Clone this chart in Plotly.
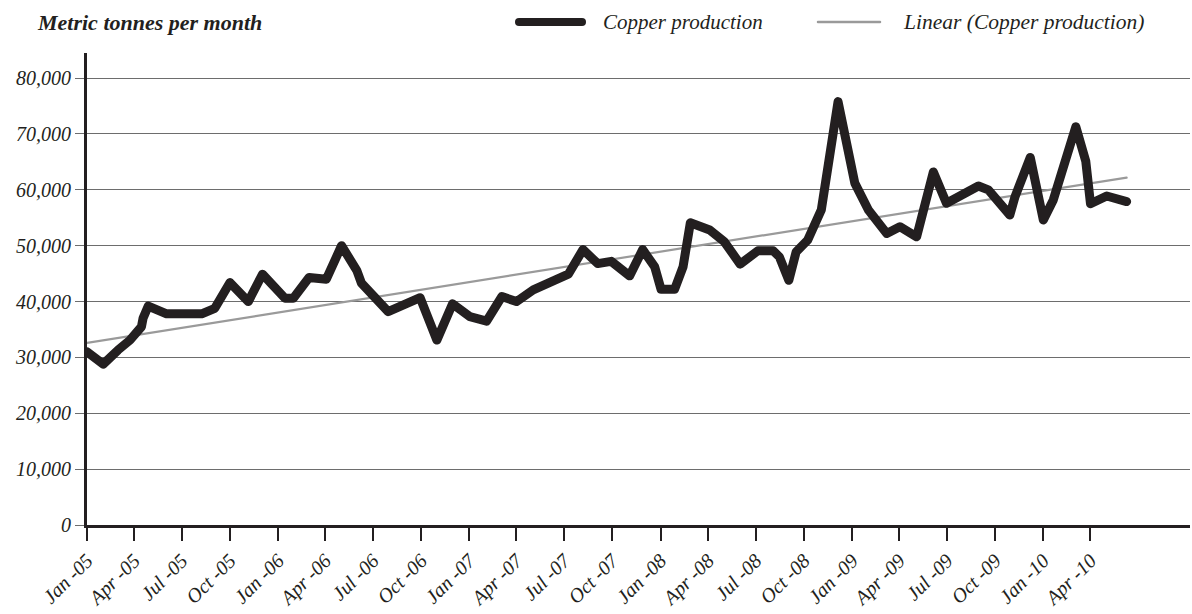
import plotly.graph_objects as go

# ---- data ----
dates = [
    "2005-01-01", "2005-02-01", "2005-03-01", "2005-03-24", "2005-04-15", "2005-04-18",
    "2005-04-28", "2005-06-02", "2005-08-08", "2005-09-02", "2005-10-01", "2005-11-05",
    "2005-12-02", "2006-01-14", "2006-01-30", "2006-03-01", "2006-04-03", "2006-05-02",
    "2006-05-31", "2006-06-09", "2006-07-30", "2006-09-29", "2006-10-31", "2006-11-30",
    "2007-01-02", "2007-02-03", "2007-03-04", "2007-04-01", "2007-05-03", "2007-06-04",
    "2007-07-09", "2007-08-06", "2007-09-03", "2007-09-29", "2007-11-03", "2007-11-28",
    "2007-12-21", "2008-01-02", "2008-01-28", "2008-02-13", "2008-02-27", "2008-04-04",
    "2008-05-02", "2008-06-01", "2008-07-05", "2008-08-03", "2008-08-15", "2008-09-02",
    "2008-09-16", "2008-10-08", "2008-11-03", "2008-12-05", "2009-01-06", "2009-02-01",
    "2009-03-08", "2009-04-02", "2009-05-04", "2009-06-05", "2009-06-30", "2009-08-30",
    "2009-09-18", "2009-10-29", "2009-11-08", "2009-12-07", "2010-01-01", "2010-01-20",
    "2010-03-04", "2010-03-23", "2010-04-01", "2010-05-02", "2010-06-09",
]
copper = [
    31000, 28800, 31300, 33100, 35500, 37000,
    39200, 37800, 37800, 38800, 43400, 40000,
    44900, 40600, 40600, 44300, 44000, 50000,
    45600, 43300, 38200, 40700, 33100, 39600,
    37300, 36500, 40900, 40000, 42100, 43600,
    44900, 49300, 46800, 47200, 44600, 49300,
    46200, 42200, 42200, 46200, 54100, 52800,
    50700, 46700, 49100, 49100, 48000, 43800,
    48900, 51000, 56400, 75800, 61200, 56400,
    52200, 53400, 51600, 63200, 57600, 60700,
    60000, 55500, 58800, 65800, 54600, 58200,
    71300, 65100, 57500, 58900, 57900,
]
trend_dates = ["2005-01-01", "2010-06-09"]
trend_values = [32600, 62200]

tick_dates = [
    "2005-01-01", "2005-04-01", "2005-07-01", "2005-10-01",
    "2006-01-01", "2006-04-01", "2006-07-01", "2006-10-01",
    "2007-01-01", "2007-04-01", "2007-07-01", "2007-10-01",
    "2008-01-01", "2008-04-01", "2008-07-01", "2008-10-01",
    "2009-01-01", "2009-04-01", "2009-07-01", "2009-10-01",
    "2010-01-01", "2010-04-01",
]
tick_labels = [
    "Jan -05", "Apr -05", "Jul -05", "Oct -05",
    "Jan -06", "Apr -06", "Jul -06", "Oct -06",
    "Jan -07", "Apr -07", "Jul -07", "Oct -07",
    "Jan -08", "Apr -08", "Jul -08", "Oct -08",
    "Jan -09", "Apr -09", "Jul -09", "Oct -09",
    "Jan -10", "Apr -10",
]
y_ticks = [0, 10000, 20000, 30000, 40000, 50000, 60000, 70000, 80000]

FONT = "Liberation Serif"
W, H = 1192, 614
ML, MR, MT, MB = 87, 2, 53, 89
PW, PH = W - ML - MR, H - MT - MB


def px_x(p):
    return (p - ML) / PW


def px_y(p):
    return (H - MB - p) / PH


fig = go.Figure()
fig.add_trace(go.Scatter(
    x=trend_dates, y=trend_values, mode="lines",
    line=dict(color="#9a9a9a", width=2.2), name="Linear (Copper production)",
    showlegend=False, hoverinfo="skip",
))
fig.add_trace(go.Scatter(
    x=dates, y=copper, mode="lines",
    line=dict(color="#231f20", width=9), name="Copper production",
    showlegend=False,
))

shapes = [
    dict(type="line", xref="paper", yref="paper",
         x0=px_x(519), x1=px_x(582), y0=px_y(22), y1=px_y(22),
         line=dict(color="#231f20", width=8)),
    dict(type="line", xref="paper", yref="paper",
         x0=px_x(818), x1=px_x(880), y0=px_y(22), y1=px_y(22),
         line=dict(color="#9a9a9a", width=2.5)),
]
annotations = [
    dict(text="Metric tonnes per month", xref="paper", yref="paper",
         x=px_x(35), y=px_y(22), xanchor="left", yanchor="middle", showarrow=False,
         font=dict(family=FONT, size=22, color="#231f20", style="italic", weight="bold")),
    dict(text="Copper production", xref="paper", yref="paper",
         x=px_x(601), y=px_y(22), xanchor="left", yanchor="middle", showarrow=False,
         font=dict(family=FONT, size=21, color="#231f20", style="italic")),
    dict(text="Linear (Copper production)", xref="paper", yref="paper",
         x=px_x(901), y=px_y(22), xanchor="left", yanchor="middle", showarrow=False,
         font=dict(family=FONT, size=21.5, color="#231f20", style="italic")),
]

fig.update_layout(
    width=W, height=H,
    margin=dict(l=ML, r=MR, t=MT, b=MB, autoexpand=False),
    paper_bgcolor="white", plot_bgcolor="white",
    showlegend=False,
    shapes=shapes, annotations=annotations,
    font=dict(family=FONT, color="#231f20"),
)
fig.update_xaxes(
    type="date", range=["2005-01-01", "2010-10-08"], automargin=False,
    tickvals=tick_dates, ticktext=tick_labels,
    tickangle=-45,
    tickfont=dict(family=FONT, size=20, color="#231f20", style="italic"),
    showgrid=False, zeroline=False,
    showline=True, linecolor="#231f20", linewidth=3,
    ticks="outside", ticklen=13, tickwidth=1.5, tickcolor="#231f20",
)
fig.update_yaxes(
    range=[0, 84500], automargin=False,
    tickvals=y_ticks, ticktext=[f"{v:,}" for v in y_ticks],
    tickfont=dict(family=FONT, size=20, color="#231f20", style="italic"),
    showgrid=True, gridcolor="#6d6d6d", gridwidth=1.2,
    zeroline=False,
    showline=True, linecolor="#231f20", linewidth=3,
    ticks="outside", ticklen=9, tickwidth=1.2, tickcolor="#6d6d6d",
)

post = """
document.body.style.margin='0';
document.body.style.overflow='hidden';
function fixJoins(){
  document.querySelectorAll('.scatterlayer path.js-line').forEach(function(p){p.style.strokeLinejoin='round';p.style.strokeLinecap='round';});
  document.querySelectorAll('.shapelayer path').forEach(function(p){p.style.strokeLinecap='round';});
}
fixJoins();
var gd=document.getElementsByClassName('plotly-graph-div')[0];
if(gd&&gd.on){gd.on('plotly_afterplot',fixJoins);}
"""
fig.write_html("out.html", post_script=post, config={"displayModeBar": False})
